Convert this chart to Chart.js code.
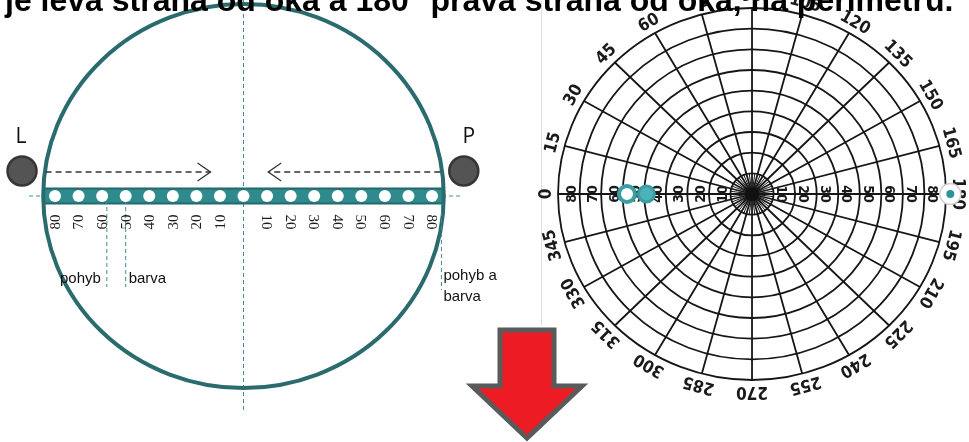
<!DOCTYPE html>
<html>
<head>
<meta charset="utf-8">
<script src="https://cdn.jsdelivr.net/npm/chart.js@4.4.1/dist/chart.umd.min.js"></script>
<style>
html, body { margin: 0; padding: 0; background: #fff; overflow: hidden; }
#wrap { position: relative; width: 969px; height: 442px; }
</style>
</head>
<body>
<div id="wrap"><canvas id="perimetr" width="969" height="442"></canvas></div>
<script>
// Left diagram: test dots along the bar (degrees, minus = left side)
const barDots = [-80, -70, -60, -50, -40, -30, -20, -10, 0, 10, 20, 30, 40, 50, 60, 70, 80];
const leftTickPos = [-80, -70, -60, -50, -40, -30, -20, -10];
const leftTickLabels = ['80', '70', '60', '50', '40', '30', '20', '10'];
const rightTickPos = [10, 20, 30, 40, 50, 60, 70, 80];
const rightTickLabels = ['10', '20', '30', '40', '50', '60', '70', '80'];
// thresholds found on the bar
const markPos = [-58, -50, 84];
const markText = [['pohyb'], ['barva'], ['pohyb a', 'barva']];

// Right: perimeter chart
const ringDegrees = [10, 20, 30, 40, 50, 60, 70, 80, 90];
const spokeAngles = [0, 15, 30, 45, 60, 75, 90, 105, 120, 135, 150, 165, 180, 195, 210, 225, 240, 255, 270, 285, 300, 315, 330, 345];
const angleLabels = ['0', '15', '30', '45', '60', '75', '90', '105', '120', '135', '150', '165', '180', '195', '210', '225', '240', '255', '270', '285', '300', '315', '330', '345'];
const axisDegrees = [10, 20, 30, 40, 50, 60, 70, 80];
const axisLabels = ['10', '20', '30', '40', '50', '60', '70', '80'];
// measured points: [angle, eccentricity]
const pohybPoint = [0, 58];
const barvaPoint = [0, 49];
const rightPoint = [180, 92];

const D = Math.PI / 180;
const polar = p => ({ x: -p[1] * Math.cos(p[0] * D), y: p[1] * Math.sin(p[0] * D) });

const decor = {
  id: 'decor',
  beforeDatasetsDraw(chart) {
    const ctx = chart.ctx;
    const sx = chart.scales.x, sy = chart.scales.y, px = chart.scales.xp, py = chart.scales.yp;
    const X = v => sx.getPixelForValue(v), Y = v => sy.getPixelForValue(v);
    const rot = (txt, x, y, ang) => {
      ctx.save(); ctx.translate(x, y); ctx.rotate(ang); ctx.fillText(txt, 0, 0); ctx.restore();
    };
    ctx.save();

    // separator
    ctx.strokeStyle = '#dedede';
    ctx.lineWidth = 1;
    ctx.beginPath(); ctx.moveTo(541.5, 0); ctx.lineTo(541.5, 325); ctx.stroke();

    // dashed guide lines
    ctx.strokeStyle = '#3b8e92';
    ctx.setLineDash([4, 3]);
    ctx.beginPath();
    ctx.moveTo(X(0), 0); ctx.lineTo(X(0), Y(-214));
    ctx.moveTo(X(-91), Y(0)); ctx.lineTo(X(92), Y(0));
    ctx.stroke();
    ctx.setLineDash([]);

    // bar clipped into the ellipse
    const cx = X(0), cy = Y(0), rx = X(85) - cx, ry = Y(0) - Y(192);
    ctx.save();
    ctx.beginPath(); ctx.ellipse(cx, cy, rx, ry, 0, 0, 2 * Math.PI); ctx.clip();
    ctx.fillStyle = '#2f8a8e';
    ctx.fillRect(X(-90), Y(8), X(90) - X(-90), Y(-8) - Y(8));
    ctx.strokeStyle = '#25686b';
    ctx.lineWidth = 2;
    ctx.beginPath();
    ctx.moveTo(X(-90), Y(7.5)); ctx.lineTo(X(90), Y(7.5));
    ctx.moveTo(X(-90), Y(-7.5)); ctx.lineTo(X(90), Y(-7.5));
    ctx.stroke();
    ctx.restore();

    ctx.strokeStyle = '#2a6b6e';
    ctx.lineWidth = 4;
    ctx.beginPath(); ctx.ellipse(cx, cy, rx, ry, 0, 0, 2 * Math.PI); ctx.stroke();

    // eyes
    [[-94, 'L'], [93.5, 'P']].forEach(e => {
      ctx.fillStyle = '#545454';
      ctx.strokeStyle = '#363636';
      ctx.lineWidth = 2.5;
      ctx.beginPath(); ctx.arc(X(e[0]), Y(25), 14.5, 0, 2 * Math.PI); ctx.fill(); ctx.stroke();
      ctx.fillStyle = '#111';
      ctx.font = '21px "Open Sans", sans-serif';
      ctx.textAlign = 'center';
      ctx.textBaseline = 'alphabetic';
      ctx.fillText(e[1], X(e[0]) + (e[1] === 'L' ? -1 : 5), Y(53));
    });

    // dashed movement arrows
    ctx.strokeStyle = '#333';
    ctx.lineWidth = 1.3;
    ctx.setLineDash([6, 4]);
    ctx.beginPath();
    ctx.moveTo(X(-84), Y(24)); ctx.lineTo(X(-14), Y(24));
    ctx.moveTo(X(83.5), Y(24)); ctx.lineTo(X(10.5), Y(24));
    ctx.stroke();
    ctx.setLineDash([]);
    ctx.beginPath();
    ctx.moveTo(X(-14) - 13, Y(33)); ctx.lineTo(X(-14), Y(24)); ctx.lineTo(X(-14) - 13, Y(15));
    ctx.moveTo(X(10.5) + 13, Y(33)); ctx.lineTo(X(10.5), Y(24)); ctx.lineTo(X(10.5) + 13, Y(15));
    ctx.stroke();

    // threshold markers
    ctx.strokeStyle = '#3b8e92';
    ctx.lineWidth = 1;
    ctx.setLineDash([4, 3]);
    ctx.beginPath();
    markPos.forEach((m, i) => {
      const top = i === 2 ? -9 : -4, bot = i === 2 ? -94 : -91;
      ctx.moveTo(X(m), Y(top)); ctx.lineTo(X(m), Y(bot));
    });
    ctx.stroke();
    ctx.setLineDash([]);

    // perimeter grid
    const pcx = px.getPixelForValue(0), pcy = py.getPixelForValue(0);
    const PX = (r, a) => px.getPixelForValue(-r * Math.cos(a * D));
    const PY = (r, a) => py.getPixelForValue(r * Math.sin(a * D));
    ctx.strokeStyle = '#161616';
    ctx.lineWidth = 1.8;
    ringDegrees.forEach(r => {
      ctx.beginPath();
      ctx.ellipse(pcx, pcy, px.getPixelForValue(r) - pcx, pcy - py.getPixelForValue(r), 0, 0, 2 * Math.PI);
      ctx.stroke();
    });
    ctx.beginPath();
    spokeAngles.forEach(a => { ctx.moveTo(pcx, pcy); ctx.lineTo(PX(90, a), PY(90, a)); });
    ctx.stroke();
    ctx.lineWidth = 1;
    ctx.beginPath();
    for (let a = 0; a < 360; a += 7.5) {
      if (a % 15 === 0) continue;
      ctx.moveTo(pcx, pcy); ctx.lineTo(PX(10, a), PY(10, a));
    }
    ctx.stroke();
    ctx.fillStyle = '#111';
    ctx.beginPath(); ctx.arc(pcx, pcy, 6.5, 0, 2 * Math.PI); ctx.fill();

    // perimeter axis labels
    ctx.textAlign = 'center';
    ctx.textBaseline = 'middle';
    ctx.fillStyle = '#1a1a1a';
    ctx.font = 'bold 14px "Liberation Sans Narrow", "DejaVu Sans Condensed", sans-serif';
    axisDegrees.forEach((r, i) => {
      rot(axisLabels[i], PX(r + 3.5, 0), PY(0, 0), -Math.PI / 2);
      rot(axisLabels[i], PX(r + 3.5, 180), PY(0, 0), Math.PI / 2);
    });

    // angle labels around the rim
    ctx.font = 'bold 17px "Liberation Sans Narrow", "DejaVu Sans Condensed", sans-serif';
    spokeAngles.forEach((a, i) => rot(angleLabels[i], PX(95.5, a), PY(95.5, a), (a - 90) * D));
    ctx.restore();
  },
  afterDatasetsDraw(chart) {
    const ctx = chart.ctx;
    const sx = chart.scales.x, sy = chart.scales.y;
    const X = v => sx.getPixelForValue(v), Y = v => sy.getPixelForValue(v);
    const rot = (txt, x, y, ang) => {
      ctx.save(); ctx.translate(x, y); ctx.rotate(ang); ctx.fillText(txt, 0, 0); ctx.restore();
    };
    ctx.save();
    ctx.textAlign = 'center';
    ctx.textBaseline = 'middle';

    // bar tick labels, rotated
    ctx.fillStyle = '#1e1e1e';
    ctx.font = '15px "Liberation Serif", serif';
    leftTickPos.forEach((p, i) => rot(leftTickLabels[i], X(p) + 1, Y(-26), -Math.PI / 2));
    rightTickPos.forEach((p, i) => rot(rightTickLabels[i], X(p) - 1, Y(-26), Math.PI / 2));

    // threshold texts
    ctx.font = '15px "Liberation Sans", sans-serif';
    ctx.textBaseline = 'alphabetic';
    ctx.fillStyle = '#111';
    ctx.textAlign = 'right';
    ctx.fillText(markText[0][0], X(markPos[0]) - 6, Y(-87));
    ctx.textAlign = 'left';
    ctx.fillText(markText[1][0], X(markPos[1]) + 3, Y(-87));
    markText[2].forEach((t, i) => ctx.fillText(t, X(markPos[2]) + 2, Y(-84 - i * 21)));

    // red arrow
    ctx.fillStyle = '#ed1c24';
    ctx.strokeStyle = '#5a5a5a';
    ctx.lineWidth = 5;
    ctx.lineJoin = 'miter';
    ctx.beginPath();
    ctx.moveTo(500, 330); ctx.lineTo(554, 330); ctx.lineTo(554, 386); ctx.lineTo(582, 386);
    ctx.lineTo(527, 438); ctx.lineTo(472, 386); ctx.lineTo(500, 386); ctx.closePath();
    ctx.fill(); ctx.stroke();

    // title, cut at the top
    ctx.fillStyle = '#000';
    ctx.textAlign = 'left';
    ctx.textBaseline = 'alphabetic';
    ctx.font = 'bold 32px "Liberation Sans", sans-serif';
    ctx.fillText('je levá strana od oka a 180° pravá strana od oka, na perimetru.', 5, 11, 950);
    ctx.restore();
  }
};

new Chart(document.getElementById('perimetr'), {
  type: 'scatter',
  data: {
    datasets: [
      {
        data: barDots.map(v => ({ x: v, y: 0 })),
        xAxisID: 'x', yAxisID: 'y', order: 1,
        pointRadius: 6, backgroundColor: '#ffffff', borderWidth: 0
      },
      {
        data: [polar(pohybPoint)],
        xAxisID: 'xp', yAxisID: 'yp', order: 3,
        pointRadius: 8, backgroundColor: '#ffffff', borderColor: '#3a9ea3', borderWidth: 4
      },
      {
        data: [polar(barvaPoint)],
        xAxisID: 'xp', yAxisID: 'yp', order: 2,
        pointRadius: 8, backgroundColor: '#4db2b7', borderColor: '#3a9ba0', borderWidth: 3
      },
      {
        data: [polar(rightPoint)],
        xAxisID: 'xp', yAxisID: 'yp', order: 5,
        pointRadius: 10.5, backgroundColor: '#ffffff', borderColor: '#d0d0d0', borderWidth: 1.5
      },
      {
        data: [polar(rightPoint)],
        xAxisID: 'xp', yAxisID: 'yp', order: 4,
        pointRadius: 4, backgroundColor: '#2f9499', borderWidth: 0
      }
    ]
  },
  options: {
    responsive: false,
    animation: false,
    events: [],
    layout: { padding: 0, autoPadding: false },
    plugins: { legend: { display: false }, tooltip: { enabled: false } },
    scales: {
      x: { type: 'linear', display: false, min: -103.34, max: 307.9 },
      y: { type: 'linear', display: false, min: -246, max: 196 },
      xp: { type: 'linear', display: false, min: -348.9, max: 100.67 },
      yp: { type: 'linear', display: false, min: -120.0, max: 93.87 }
    }
  },
  plugins: [decor]
});
</script>
</body>
</html>
